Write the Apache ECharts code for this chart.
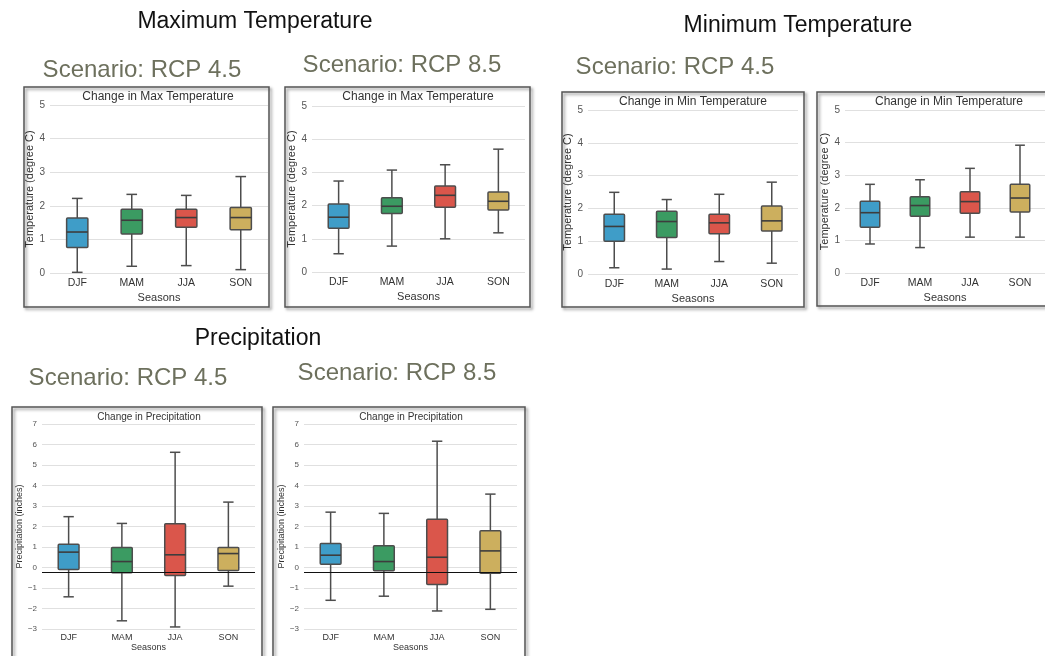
<!DOCTYPE html>
<html>
<head>
<meta charset="utf-8">
<script src="https://cdn.jsdelivr.net/npm/echarts@6/dist/echarts.min.js"></script>
<style>
html,body{margin:0;padding:0;background:#fff;}
#chart{width:1045px;height:656px;}
</style>
</head>
<body>
<div id="chart"></div>
<script>
// ---- data (five-number summaries: [whisker low, Q1, median, Q3, whisker high]) ----
const seasons = ['DJF', 'MAM', 'JJA', 'SON'];
const seasonColors = ['#3f9dc8', '#3b9b62', '#da564b', '#ccaf5e'];

const maxTempRcp45 = [[0.02, 0.76, 1.22, 1.64, 2.22], [0.20, 1.16, 1.57, 1.90, 2.34], [0.22, 1.36, 1.65, 1.90, 2.31], [0.10, 1.29, 1.65, 1.95, 2.87]];
const maxTempRcp85 = [[0.55, 1.32, 1.65, 2.05, 2.74], [0.78, 1.76, 1.98, 2.24, 3.07], [1.00, 1.95, 2.31, 2.59, 3.23], [1.18, 1.87, 2.13, 2.41, 3.70]];
const minTempRcp45 = [[0.19, 1.00, 1.45, 1.82, 2.49], [0.15, 1.11, 1.60, 1.91, 2.27], [0.38, 1.23, 1.56, 1.82, 2.43], [0.33, 1.31, 1.62, 2.07, 2.80]];
const minTempRcp85 = [[0.89, 1.40, 1.85, 2.20, 2.72], [0.78, 1.74, 2.07, 2.34, 2.86], [1.10, 1.83, 2.19, 2.49, 3.21], [1.10, 1.87, 2.30, 2.72, 3.92]];
const precipRcp45 = [[-1.43, -0.10, 0.75, 1.14, 2.48], [-2.60, -0.26, 0.29, 0.98, 2.15], [-2.90, -0.39, 0.62, 2.13, 5.62], [-0.91, -0.15, 0.68, 0.98, 3.19]];
const precipRcp85 = [[-1.60, 0.16, 0.60, 1.17, 2.70], [-1.40, -0.16, 0.29, 1.06, 2.64], [-2.12, -0.83, 0.50, 2.35, 6.16], [-2.04, -0.28, 0.81, 1.79, 3.58]];
const precipRefLine = -0.22;

const tempTicks = [0, 5, 1];      // min, max, interval
const precipTicks = [-3, 7, 1];

// ---- layout ----
const panels = [
  {data: maxTempRcp45, title: 'Change in Max Temperature', yName: 'Temperature (degree C)', ticks: tempTicks,
   grid: {left: 50, top: 105, width: 218, height: 168}, titlePos: [158, 97], frame: [24, 87, 245, 220], small: false, nameGap: 13},
  {data: maxTempRcp85, title: 'Change in Max Temperature', yName: 'Temperature (degree C)', ticks: tempTicks,
   grid: {left: 312, top: 106, width: 213, height: 166}, titlePos: [418, 97], frame: [285, 87, 245, 220], small: false, nameGap: 14},
  {data: minTempRcp45, title: 'Change in Min Temperature', yName: 'Temperature (degree C)', ticks: tempTicks,
   grid: {left: 588, top: 110, width: 210, height: 164}, titlePos: [693, 102], frame: [562, 92, 242, 215], small: false, nameGap: 13},
  {data: minTempRcp85, title: 'Change in Min Temperature', yName: 'Temperature (degree C)', ticks: tempTicks,
   grid: {left: 845, top: 110, width: 207, height: 163}, titlePos: [949, 102], frame: [817, 92, 250, 214], small: false, nameGap: 13},
  {data: precipRcp45, title: 'Change in Precipitation', yName: 'Precipitation (inches)', ticks: precipTicks, ref: precipRefLine,
   grid: {left: 42, top: 424, width: 213, height: 205}, titlePos: [149, 417], frame: [12, 407, 250, 270], small: true, nameGap: 16},
  {data: precipRcp85, title: 'Change in Precipitation', yName: 'Precipitation (inches)', ticks: precipTicks, ref: precipRefLine,
   grid: {left: 304, top: 424, width: 213, height: 205}, titlePos: [411, 417], frame: [273, 407, 252, 270], small: true, nameGap: 16}
];

const headings = [
  {text: 'Maximum Temperature', x: 255, y: 22, big: true},
  {text: 'Minimum Temperature', x: 798, y: 26, big: true},
  {text: 'Precipitation', x: 258, y: 339, big: true},
  {text: 'Scenario: RCP 4.5', x: 142, y: 70},
  {text: 'Scenario: RCP 8.5', x: 402, y: 65},
  {text: 'Scenario: RCP 4.5', x: 675, y: 67},
  {text: 'Scenario: RCP 4.5', x: 128, y: 378},
  {text: 'Scenario: RCP 8.5', x: 397, y: 373}
];

const FONT = '"Liberation Sans", Arial, sans-serif';
const minus = v => String(v).replace('-', '\u2212');

function renderBox(params, api) {
  const i = api.value(0);
  const lo = api.coord([i, api.value(1)]);
  const q1 = api.coord([i, api.value(2)]);
  const med = api.coord([i, api.value(3)]);
  const q3 = api.coord([i, api.value(4)]);
  const hi = api.coord([i, api.value(5)]);
  const cx = lo[0];
  const band = api.size([1, 0])[0];
  const bw = band * 0.39;
  const cw = bw * 0.5;
  const edge = '#4d4d4d';
  const lineStyle = {stroke: edge, lineWidth: 1.5};
  return {
    type: 'group',
    children: [
      {type: 'line', shape: {x1: cx, y1: hi[1], x2: cx, y2: q3[1]}, style: lineStyle},
      {type: 'line', shape: {x1: cx, y1: q1[1], x2: cx, y2: lo[1]}, style: lineStyle},
      {type: 'line', shape: {x1: cx - cw / 2, y1: hi[1], x2: cx + cw / 2, y2: hi[1]}, style: lineStyle},
      {type: 'line', shape: {x1: cx - cw / 2, y1: lo[1], x2: cx + cw / 2, y2: lo[1]}, style: lineStyle},
      {type: 'rect', shape: {x: cx - bw / 2, y: q3[1], width: bw, height: q1[1] - q3[1], r: 1},
       style: {fill: seasonColors[params.dataIndex], stroke: edge, lineWidth: 1.5}},
      {type: 'line', shape: {x1: cx - bw / 2, y1: med[1], x2: cx + bw / 2, y2: med[1]}, style: {stroke: '#3d3d3d', lineWidth: 1.6}}
    ]
  };
}

const grids = [], xAxes = [], yAxes = [], series = [], graphics = [];

panels.forEach((p, k) => {
  const s = p.small;
  grids.push(Object.assign({containLabel: false}, p.grid));
  xAxes.push({
    type: 'category', gridIndex: k, data: seasons, boundaryGap: true,
    name: 'Seasons', nameLocation: 'middle', nameGap: s ? 14 : 19,
    nameTextStyle: {fontFamily: FONT, fontSize: s ? 9 : 11, color: '#333'},
    axisLine: {show: false}, axisTick: {show: false}, splitLine: {show: false},
    axisLabel: {fontFamily: FONT, fontSize: s ? 9 : 10.5, color: '#333', margin: s ? 4 : 5}
  });
  yAxes.push({
    type: 'value', gridIndex: k, min: p.ticks[0], max: p.ticks[1], interval: p.ticks[2],
    name: p.yName, nameLocation: 'middle', nameGap: p.nameGap, nameRotate: 90,
    nameTextStyle: {fontFamily: FONT, fontSize: s ? 9 : 11, color: '#333'},
    axisLine: {show: false}, axisTick: {show: false},
    splitLine: {show: true, lineStyle: {color: '#e0e0e0', width: 1}},
    axisLabel: {fontFamily: FONT, fontSize: s ? 8 : 10, color: '#555', margin: 5, formatter: minus}
  });
  const sdata = p.data.map((d, i) => [i].concat(d));
  const ser = {
    type: 'custom', xAxisIndex: k, yAxisIndex: k, renderItem: renderBox,
    encode: {x: 0, y: [1, 2, 3, 4, 5]}, data: sdata, silent: true, z: 3
  };
  if (p.ref !== undefined) {
    ser.markLine = {
      silent: true, symbol: 'none', label: {show: false},
      lineStyle: {color: '#111', width: 1.2, type: 'solid'},
      data: [{yAxis: p.ref}]
    };
  }
  series.push(ser);
  graphics.push({
    type: 'rect', shape: {x: p.frame[0], y: p.frame[1], width: p.frame[2], height: p.frame[3]},
    style: {fill: 'transparent', stroke: '#555', lineWidth: 1.5,
            shadowBlur: 3, shadowColor: 'rgba(0,0,0,0.45)', shadowOffsetX: 2, shadowOffsetY: 2},
    z: 1
  });
  graphics.push({
    type: 'text', x: p.titlePos[0], y: p.titlePos[1],
    style: {text: p.title, fontFamily: FONT, fontSize: s ? 10 : 12, fill: '#333', align: 'center', verticalAlign: 'middle'}
  });
});

headings.forEach(h => {
  graphics.push({
    type: 'text', x: h.x, y: h.y,
    style: {text: h.text, fontFamily: FONT, fontSize: h.big ? 23 : 24,
            fill: h.big ? '#111' : '#6d705d', align: 'center', verticalAlign: 'middle'}
  });
});

const chart = echarts.init(document.getElementById('chart'), null, {renderer: 'canvas', width: 1045, height: 656});
chart.setOption({
  animation: false,
  backgroundColor: '#fff',
  grid: grids,
  xAxis: xAxes,
  yAxis: yAxes,
  series: series,
  graphic: graphics
});
</script>
</body>
</html>
